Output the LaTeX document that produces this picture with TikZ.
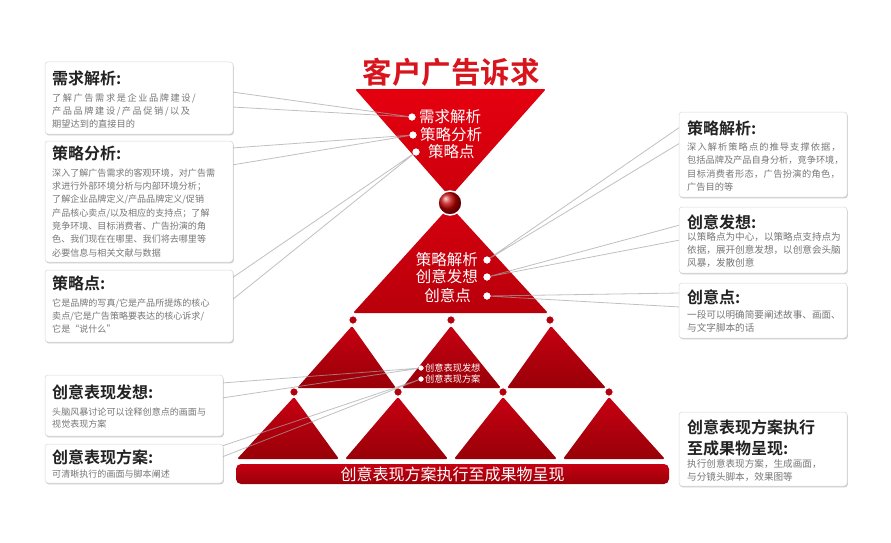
\documentclass[tikz,border=0pt]{standalone}
\usepackage{fontspec}
\newfontfamily\cjk{Noto Sans CJK SC}[BoldFont={Noto Sans CJK SC Bold}]
\usetikzlibrary{shadows,calc}
\definecolor{topred}{HTML}{E5000F}
\definecolor{topred2}{HTML}{CC000D}
\definecolor{midred}{HTML}{D5000E}
\definecolor{midred2}{HTML}{B8000B}
\definecolor{lowred}{HTML}{C70012}
\definecolor{lowred2}{HTML}{980008}
\definecolor{dotred}{HTML}{B3000C}
\definecolor{titlered}{HTML}{D8141C}
\definecolor{ttlgray}{HTML}{222222}
\definecolor{bodygray}{HTML}{777777}
\tikzset{
  box/.style={draw=black!15, line width=0.5pt, fill=white, rounded corners=3pt, inner sep=0,
    drop shadow={shadow xshift=0.8pt, shadow yshift=-1.3pt, opacity=0.28, fill=black!70}},
  ttl/.style={anchor=west, inner sep=0, text=ttlgray, font=\cjk\bfseries\fontsize{16}{18}\selectfont},
  bodyl/.style={anchor=north west, inner sep=0, align=left, text=bodygray},
  wtxt/.style={text=white, inner sep=0, font=\cjk\fontsize{15.5}{17}\selectfont},
  wsmall/.style={text=white, inner sep=0, anchor=west, font=\cjk\fontsize{9.2}{11}\selectfont},
  wdot/.style={circle, fill=white, inner sep=0, minimum size=7pt},
  wdots/.style={circle, fill=white, inner sep=0, minimum size=5pt},
  rdot/.style={circle, fill=dotred, draw=white, line width=1pt, inner sep=0, minimum size=8.5pt},
  conn/.style={draw=black!35, line width=0.8pt, opacity=0.7},
}
\begin{document}
\begin{tikzpicture}[x=1pt,y=-1pt]
\useasboundingbox (0,0) rectangle (891,543);
\fill[white] (0,0) rectangle (891,543);

% ---------- triangles ----------
\shade[top color=topred, bottom color=topred2, rounded corners=1.5pt] (355,89) -- (546,89) -- (450,197) -- cycle;
\shade[top color=midred, bottom color=midred2, rounded corners=1.5pt] (450,206) -- (548,313) -- (353,313) -- cycle;
% row 2
\shade[top color=lowred, bottom color=lowred2, rounded corners=1.5pt] (352,326) -- (396,388) -- (297,388) -- cycle;
\shade[top color=lowred, bottom color=lowred2, rounded corners=1.5pt] (451,326) -- (501,388) -- (402,388) -- cycle;
\shade[top color=lowred, bottom color=lowred2, rounded corners=1.5pt] (551,326) -- (606,388) -- (507,388) -- cycle;
% row 3
\shade[top color=lowred, bottom color=lowred2, rounded corners=1.5pt] (294,397) -- (339,459) -- (237,459) -- cycle;
\shade[top color=lowred, bottom color=lowred2, rounded corners=1.5pt] (398,397) -- (448,459) -- (345,459) -- cycle;
\shade[top color=lowred, bottom color=lowred2, rounded corners=1.5pt] (503,397) -- (557,459) -- (454,459) -- cycle;
\shade[top color=lowred, bottom color=lowred2, rounded corners=1.5pt] (609,397) -- (665,459) -- (563,459) -- cycle;

% bar
\node[rounded corners=5pt, top color=lowred, bottom color=lowred2, minimum width=433pt, minimum height=20pt, inner sep=0,
  text=white, font=\cjk\fontsize{16}{18}\selectfont] (bar) at (452.5,474) {创意表现方案执行至成果物呈现};

% ball and dots
\node[circle, minimum size=24pt, inner sep=0, ball color=red!75!black, draw=white, line width=1.5pt] (ball) at (450,203) {};
\node[rdot] (p1) at (353,320) {};
\node[rdot] (p2) at (451,320) {};
\node[rdot] (p3) at (550,320) {};
\node[rdot] (q1) at (294,392) {};
\node[rdot] (q2) at (398,392) {};
\node[rdot] (q3) at (503,392) {};
\node[rdot] (q4) at (609,392) {};

% ---------- bullets ----------
\node[wdot] (t1) at (412,117) {};
\node[wdot] (t2) at (413,135) {};
\node[wdot] (t3) at (416,152) {};
\node[wdot] (m1) at (487,260) {};
\node[wdot] (m2) at (487,277) {};
\node[wdot] (m3) at (487,296) {};
\node[wdots] (s1) at (421,368) {};
\node[wdots] (s2) at (421,379) {};

% ---------- connector wedge ends ----------
\coordinate (a1) at (232,92);  \coordinate (a2) at (232,107);
\coordinate (a3) at (232,148); \coordinate (a4) at (232,165);
\coordinate (a5) at (232,278); \coordinate (a6) at (232,300);
\coordinate (a7) at (222,383); \coordinate (a8) at (222,398);
\coordinate (a9) at (222,446); \coordinate (a10) at (222,457);
\coordinate (c1) at (680,127); \coordinate (c2) at (680,143);
\coordinate (c3) at (680,225); \coordinate (c4) at (680,240);
\coordinate (c5) at (680,293); \coordinate (c6) at (680,307);

\draw[conn] (a1) -- (t1.center) -- (a2);
\draw[conn] (a3) -- (t2.center) -- (a4);
\draw[conn] (a5) -- (t3.center) -- (a6);
\draw[conn] (a7) -- (s1.center) -- (a8);
\draw[conn] (a9) -- (s2.center) -- (a10);
\draw[conn] (c1) -- (m1.center) -- (c2);
\draw[conn] (c3) -- (m2.center) -- (c4);
\draw[conn] (c5) -- (m3.center) -- (c6);

% redraw bullets on top of connectors
\fill[white] (t1) circle (3.5pt) (t2) circle (3.5pt) (t3) circle (3.5pt)
  (m1) circle (3.5pt) (m2) circle (3.5pt) (m3) circle (3.5pt)
  (s1) circle (2.5pt) (s2) circle (2.5pt);

% ---------- texts in triangles ----------
\node[titlered, font=\cjk\bfseries\fontsize{29.5}{32}\selectfont, inner sep=0] (title) at (451,72) {客户广告诉求};
\node[wtxt, anchor=west] (tx1) at (419,117) {需求解析};
\node[wtxt, anchor=west] (tx2) at (420,135) {策略分析};
\node[wtxt, anchor=west] (tx3) at (428,152) {策略点};
\node[wtxt, anchor=east] (mx1) at (478,260) {策略解析};
\node[wtxt, anchor=east] (mx2) at (478,277) {创意发想};
\node[wtxt, anchor=east] (mx3) at (471,296) {创意点};
\node[wsmall] (sx1) at (425,368) {创意表现发想};
\node[wsmall] (sx2) at (425,379) {创意表现方案};

% ---------- left boxes ----------
\node[box, minimum width=188pt, minimum height=72pt] (b1) at (139,98) {};
\node[box, minimum width=188pt, minimum height=121pt] (b2) at (139,201.5) {};
\node[box, minimum width=188pt, minimum height=72pt] (b3) at (139,306) {};
\node[box, minimum width=178pt, minimum height=61pt] (b4) at (134,405.5) {};
\node[box, minimum width=178pt, minimum height=39pt] (b5) at (134,463.5) {};

\node[ttl] (b1t) at (52,78) {需求解析:};
\node[bodyl, font=\cjk\fontsize{9.2}{12.8}\selectfont] (b1b) at (52,93.5)
  {{\addfontfeatures{LetterSpace=17}了解广告需求是企业品牌建设/}\\
   {\addfontfeatures{LetterSpace=17}产品品牌建设/产品促销/以及}\\
   期望达到的直接目的};
\node[ttl] (b2t) at (52,153) {策略分析:};
\node[bodyl, font=\cjk\fontsize{9.05}{13.3}\selectfont] (b2b) at (52,168.5)
  {深入了解广告需求的客观环境，对广告需\\
   求进行外部环境分析与内部环境分析；\\
   了解企业品牌定义/产品品牌定义/促销\\
   产品核心卖点/以及相应的支持点；了解\\
   竞争环境、目标消费者、广告扮演的角\\
   色、我们现在在哪里、我们将去哪里等\\
   必要信息与相关文献与数据};
\node[ttl] (b3t) at (52,283) {策略点:};
\node[bodyl, font=\cjk\fontsize{9.05}{13}\selectfont] (b3b) at (52,298.5)
  {它是品牌的写真/它是产品所提炼的核心\\
   卖点/它是广告策略要表达的核心诉求/\\
   它是“说什么”};
\node[ttl] (b4t) at (52,392) {创意表现发想:};
\node[bodyl, font=\cjk\fontsize{9.05}{12}\selectfont] (b4b) at (52,407.5)
  {头脑风暴讨论可以诠释创意点的画面与\\
   视觉表现方案};
\node[ttl] (b5t) at (52,457) {创意表现方案:};
\node[bodyl, font=\cjk\fontsize{9.05}{12}\selectfont] (b5b) at (52,469.5)
  {可清晰执行的画面与脚本阐述};

% ---------- right boxes ----------
\node[box, minimum width=168pt, minimum height=85pt] (r1) at (763,154.5) {};
\node[box, minimum width=168pt, minimum height=66pt] (r2) at (763,240) {};
\node[box, minimum width=168pt, minimum height=55pt] (r3) at (763,310.5) {};
\node[box, minimum width=168pt, minimum height=74pt] (r4) at (763,449) {};

\node[ttl] (r1t) at (687,128) {策略解析:};
\node[bodyl, font=\cjk\fontsize{9.2}{13.3}\selectfont] (r1b) at (687,142.5)
  {{\addfontfeatures{LetterSpace=12}深入解析策略点的推导支撑依据，}\\
   包括品牌及产品自身分析，竞争环境，\\
   {\addfontfeatures{LetterSpace=4}目标消费者形态，广告扮演的角色，}\\
   广告目的等};
\node[ttl] (r2t) at (687,222) {创意发想:};
\node[bodyl, font=\cjk\fontsize{9.6}{13}\selectfont] (r2b) at (687,232.3)
  {以策略点为中心，以策略点支持点为\\
   依据，展开创意发想，以创意会头脑\\
   风暴，发散创意};
\node[ttl] (r3t) at (687,297) {创意点:};
\node[bodyl, font=\cjk\fontsize{9.6}{13}\selectfont] (r3b) at (687,310.3)
  {一段可以明确简要阐述故事、画面、\\
   与文字脚本的话};
\node[ttl, anchor=north west, align=left, font=\cjk\bfseries\fontsize{16}{21}\selectfont] (r4t) at (687,419.5)
  {创意表现方案执行\\至成果物呈现:};
\node[bodyl, font=\cjk\fontsize{9.6}{13}\selectfont] (r4b) at (687,459.3)
  {执行创意表现方案，生成画面，\\
   与分镜头脚本，效果图等};
\end{tikzpicture}
\end{document}
